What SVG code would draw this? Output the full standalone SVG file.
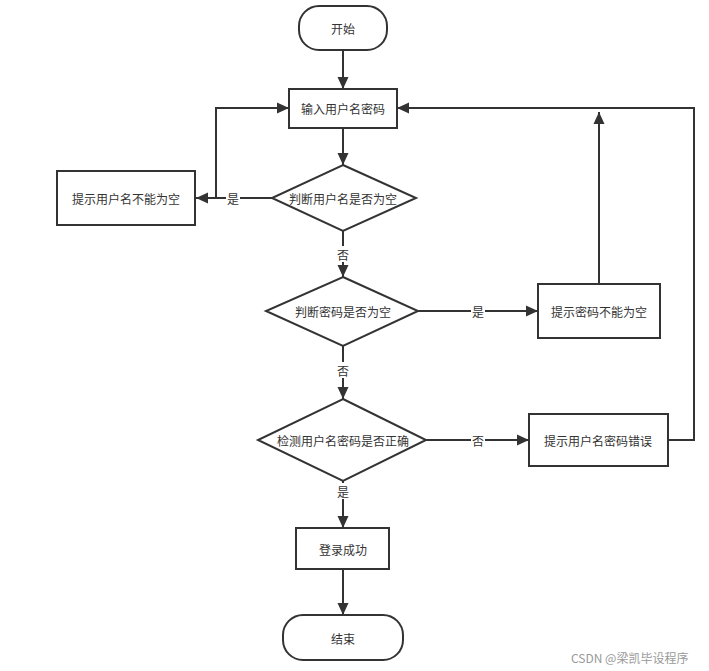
<svg xmlns="http://www.w3.org/2000/svg" width="709" height="671" viewBox="0 0 709 671">
<defs>
<marker id="ah" viewBox="0 0 12 12" refX="12" refY="6" markerWidth="12" markerHeight="12" markerUnits="userSpaceOnUse" orient="auto">
<path d="M0,0.5 L12,6 L0,11.5 Z" fill="#333"/>
</marker>
</defs>
<style>
.n{fill:#fff;stroke:#333;stroke-width:2}
.e{fill:none;stroke:#333;stroke-width:2;marker-end:url(#ah)}
text{font-family:"Noto Sans CJK SC","Noto Sans",sans-serif;font-size:12px;fill:#333;text-anchor:middle;dominant-baseline:central}
.lb{fill:#fff;stroke:none}
.wm{fill:#999;font-size:12px;text-anchor:start}
</style>
<rect width="709" height="671" fill="#fff"/>
<g id="connectors">
<path class="e" d="M343,50 V89"/>
<path class="e" d="M343,128 V165"/>
<path class="e" d="M272,198 H196"/>
<path class="e" d="M216,198 V108 H289"/>
<path class="e" d="M343,231 V277"/>
<path class="e" d="M418,311 H538"/>
<path class="e" d="M599,284 V112"/>
<path class="e" d="M343,346 V399"/>
<path class="e" d="M426,440 H529"/>
<path class="e" d="M668,440 H694 V108 H397"/>
<path class="e" d="M343,481 V528"/>
<path class="e" d="M343,569 V615"/>
<rect class="lb" x="226" y="190" width="14" height="16"/>
<text x="233" y="198">是</text>
<rect class="lb" x="336" y="246" width="14" height="16"/>
<text x="343" y="254">否</text>
<rect class="lb" x="471" y="303" width="14" height="16"/>
<text x="478" y="311">是</text>
<rect class="lb" x="336" y="362" width="14" height="16"/>
<text x="343" y="370">否</text>
<rect class="lb" x="471" y="432" width="14" height="16"/>
<text x="478" y="440">否</text>
<rect class="lb" x="336" y="483" width="14" height="16"/>
<text x="343" y="491">是</text>
</g>
<g id="start"><rect class="n" x="299" y="6" width="88" height="44" rx="20"/><text x="343" y="28">开始</text></g>
<g id="input"><rect class="n" x="289" y="89" width="108" height="39"/><text x="343" y="108">输入用户名密码</text></g>
<g id="d1"><path class="n" d="M343,165 L416,198 L343,231 L272,198 Z"/><text x="343" y="198">判断用户名是否为空</text></g>
<g id="msg1"><rect class="n" x="57" y="171" width="138" height="54"/><text x="126" y="198">提示用户名不能为空</text></g>
<g id="d2"><path class="n" d="M343,277 L418,311 L343,346 L266,311 Z"/><text x="343" y="311">判断密码是否为空</text></g>
<g id="msg2"><rect class="n" x="538" y="284" width="122" height="54"/><text x="599" y="311">提示密码不能为空</text></g>
<g id="d3"><path class="n" d="M343,399 L426,440 L343,481 L258,440 Z"/><text x="343" y="440">检测用户名密码是否正确</text></g>
<g id="msg3"><rect class="n" x="529" y="414" width="139" height="52"/><text x="598" y="440">提示用户名密码错误</text></g>
<g id="ok"><rect class="n" x="296" y="528" width="93" height="41"/><text x="343" y="549">登录成功</text></g>
<g id="end"><rect class="n" x="283" y="615" width="120" height="45" rx="20"/><text x="343" y="638">结束</text></g>
<text class="wm" x="571" y="657">CSDN @梁凯毕设程序</text>
</svg>
